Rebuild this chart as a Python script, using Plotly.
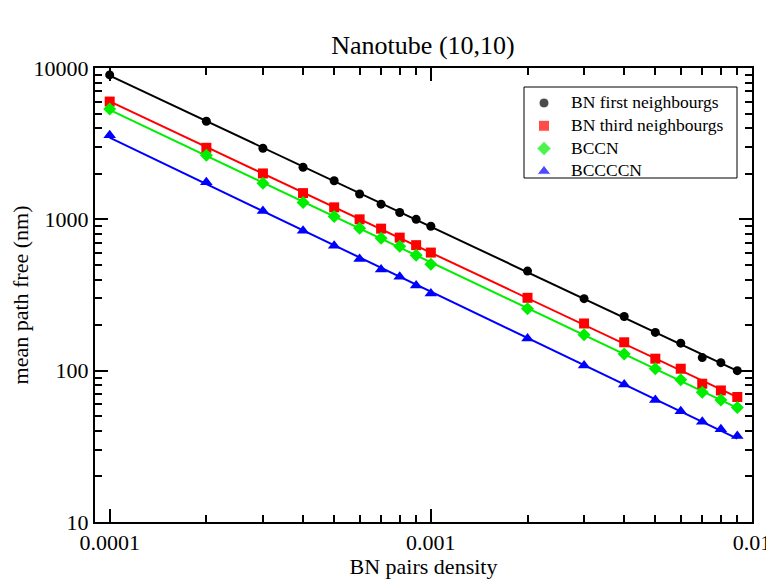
import numpy as np
import plotly.graph_objects as go

density = [0.0001, 0.0002, 0.0003, 0.0004, 0.0005, 0.0006, 0.0007, 0.0008, 0.0009,
           0.001, 0.002, 0.003, 0.004, 0.005, 0.006, 0.007, 0.008, 0.009]

bn_first = [9000, 4450, 2950, 2210, 1800, 1470, 1260, 1110, 1000,
            900, 455, 299, 228, 179, 152, 122, 113, 100]
bn_third = [6000, 2970, 2010, 1490, 1200, 1000, 868, 757, 675,
            603, 303, 205, 154, 120, 103, 82, 74, 67]
bccn = [5350, 2650, 1730, 1290, 1043, 873, 751, 665, 578,
        504, 257, 173, 129, 103, 87, 72, 64, 57]
bccccn = [3600, 1760, 1135, 841, 670, 547, 467, 418, 366,
          324, 163, 108, 81, 64, 54, 46, 41, 37]

series_names = ["BN first neighbourgs", "BN third neighbourgs", "BCCN", "BCCCCN"]
series_values = [bn_first, bn_third, bccn, bccccn]
series_colors = ["#000000", "#ff0000", "#00ee00", "#0000ff"]
series_symbols = ["circle", "square", "diamond", "triangle-up"]
series_sizes = [9, 10, 10, 11]

x_tickvals = [0.0001, 0.001, 0.01]
x_ticktext = ["0.0001", "0.001", "0.01"]
y_tickvals = [10, 100, 1000, 10000]
y_ticktext = ["10", "100", "1000", "10000"]

FONT = "Liberation Serif, Times New Roman, serif"

# page offset: the browser body has an 8px margin
OFF = 8
W, H = 774 - OFF, 579 - OFF
PL, PR, PT, PB = 95, 752, 68, 522  # plot area in page pixels


def px(x):
    return (x - PL) / (PR - PL)


def py(y):
    return (PB - y) / (PB - PT)


fig = go.Figure()
xs = np.array(density)
for name, vals, col in zip(series_names, series_values, series_colors):
    p = np.polyfit(np.log10(xs), np.log10(np.array(vals, float)), 1)
    fx = np.array([xs.min(), xs.max()])
    fy = 10 ** np.polyval(p, np.log10(fx))
    fig.add_trace(go.Scatter(x=fx, y=fy, mode="lines", line=dict(color=col, width=2),
                             showlegend=False, hoverinfo="skip"))
for name, vals, col, sym, sz in zip(series_names, series_values, series_colors,
                                    series_symbols, series_sizes):
    fig.add_trace(go.Scatter(x=density, y=vals, mode="markers", name=name,
                             marker=dict(color=col, symbol=sym, size=sz)))

# hand-made legend (box, symbols, labels)
LEG_FONT = 17.5
row_h = LEG_FONT * 1.3
first_row = 102
leg_rows = [first_row + i * row_h for i in range(4)]
fig.add_shape(type="rect", xref="paper", yref="paper",
              x0=px(524), x1=px(737), y0=py(178), y1=py(87),
              line=dict(color="black", width=1), fillcolor="white", layer="below")
fig.add_trace(go.Scatter(x=[px(544)] * 4, y=[py(r + 1) for r in leg_rows],
                         xaxis="x2", yaxis="y2", mode="markers",
                         marker=dict(color=series_colors, symbol=series_symbols,
                                     size=[s + 1 for s in series_sizes]),
                         showlegend=False, hoverinfo="skip"))
fig.add_annotation(x=px(570), y=py((leg_rows[0] + leg_rows[-1]) / 2), xref="paper",
                   yref="paper", text="<br>".join(series_names), showarrow=False,
                   xanchor="left", yanchor="middle", align="left", borderpad=0,
                   font=dict(family=FONT, size=LEG_FONT, color="black"))

axis_common = dict(type="log", showgrid=False, zeroline=False, showline=True,
                   linecolor="black", linewidth=2, mirror="ticks", automargin=False,
                   ticks="inside", ticklen=13, tickwidth=2, tickcolor="black",
                   tickfont=dict(family=FONT, size=22, color="black"),
                   minor=dict(ticks="inside", ticklen=7, tickwidth=1.5,
                              tickcolor="black", dtick="D1", showgrid=False))

fig.update_layout(
    width=W, height=H,
    margin=dict(l=PL - OFF, r=W - (PR - OFF), t=PT - OFF, b=H - (PB - OFF)),
    paper_bgcolor="white", plot_bgcolor="white",
    showlegend=False,
    title=dict(text="Nanotube (10,10)", x=(423 - OFF) / W, xanchor="center",
               y=1 - (45 - OFF) / H, yanchor="middle",
               font=dict(family=FONT, size=26, color="black")),
    xaxis=dict(axis_common, range=[np.log10(0.00009), -2],
               tickvals=x_tickvals, ticktext=x_ticktext,
               title=dict(text="BN pairs density", standoff=0,
                          font=dict(family=FONT, size=22, color="black"))),
    yaxis=dict(axis_common, range=[1, 4],
               tickvals=y_tickvals, ticktext=y_ticktext,
               title=dict(text="mean path free (nm)", standoff=0,
                          font=dict(family=FONT, size=22, color="black"))),
    xaxis2=dict(domain=[0, 1], range=[0, 1], overlaying="x", visible=False,
                fixedrange=True),
    yaxis2=dict(domain=[0, 1], range=[0, 1], overlaying="y", visible=False,
                fixedrange=True),
)

fig.write_html("out.html")
